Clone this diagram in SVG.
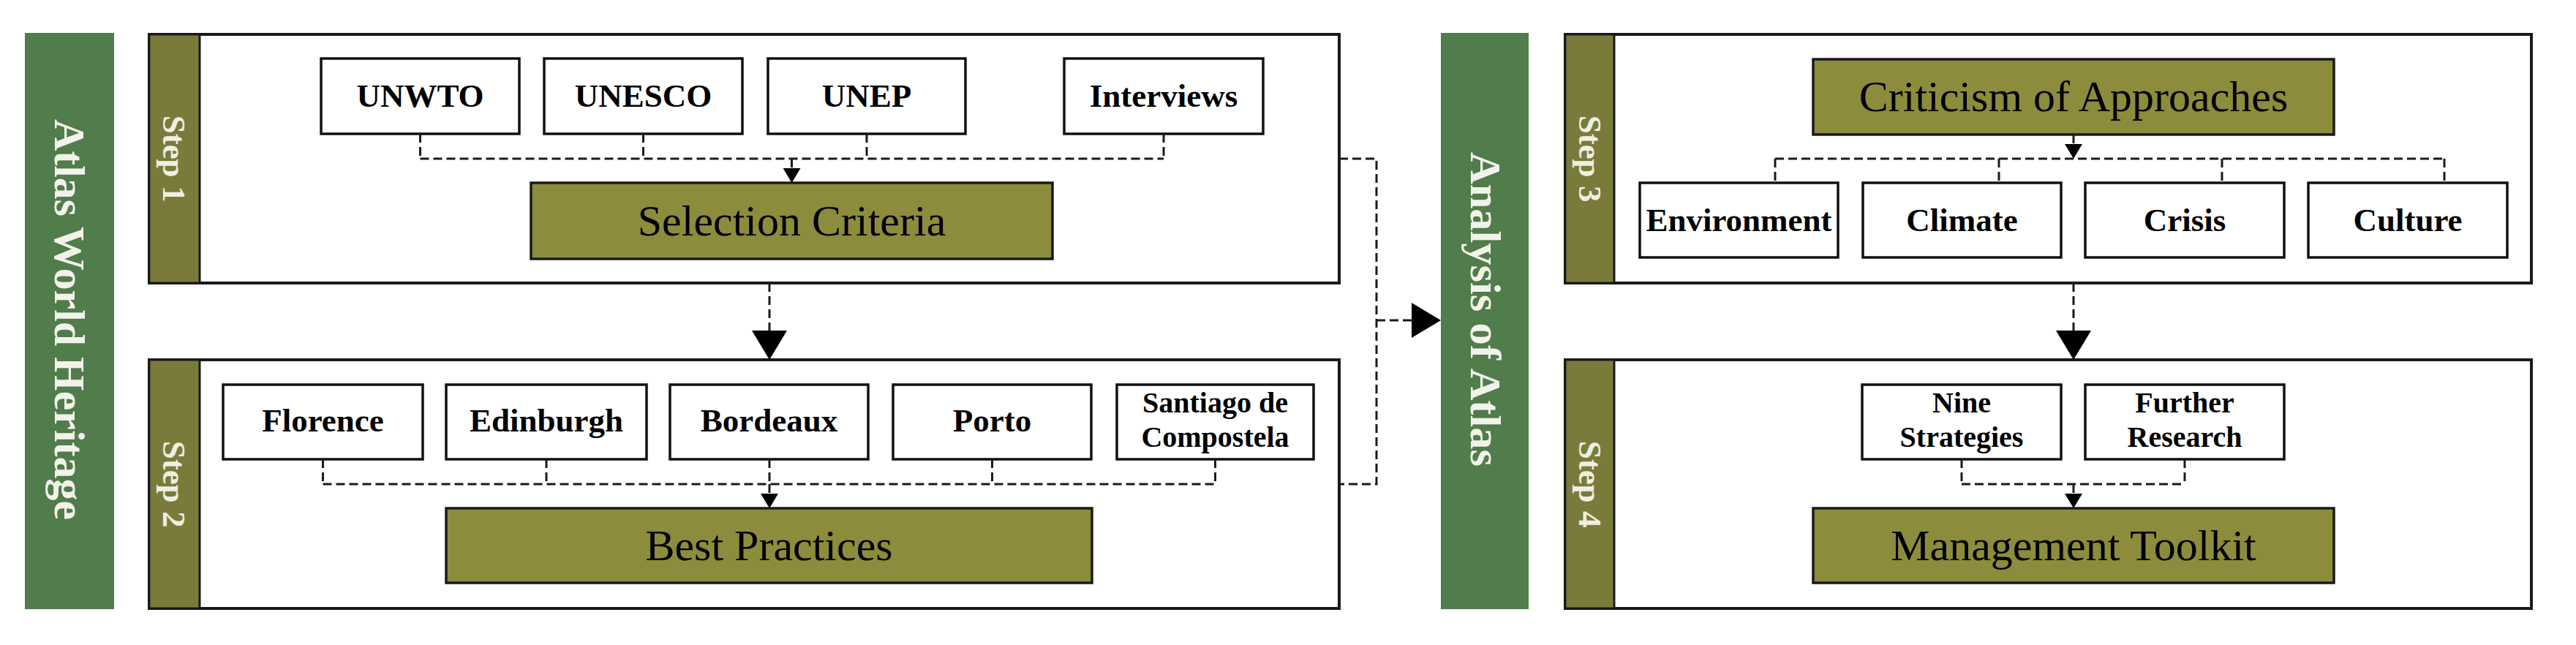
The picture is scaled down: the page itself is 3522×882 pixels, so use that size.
<svg xmlns="http://www.w3.org/2000/svg" width="3522" height="882" viewBox="0 0 3522 882">
<style>
.bg{fill:#ffffff}
.bar{fill:#517c4c}
.frame{fill:#ffffff;stroke:#1a1a1a;stroke-width:4}
.strip{fill:#7a7b3b;stroke:#1a1a1a;stroke-width:3}
.box{fill:#ffffff;stroke:#111111;stroke-width:3.5}
.obox{fill:#8c8c3c;stroke:#1a1a1a;stroke-width:3.5}
.lbl{font-family:"Liberation Serif","Times New Roman",serif;font-weight:bold;font-size:45px;fill:#000;text-anchor:middle}
.lbl2{font-family:"Liberation Serif","Times New Roman",serif;font-weight:bold;font-size:40px;fill:#000;text-anchor:middle}
.big{font-family:"Liberation Serif","Times New Roman",serif;font-size:60px;fill:#000;text-anchor:middle}
.vt{font-family:"Liberation Serif","Times New Roman",serif;font-weight:bold;font-size:60px;fill:#f2f2ea;text-anchor:middle}
.st{font-family:"Liberation Serif","Times New Roman",serif;font-weight:bold;font-size:45px;fill:#efefe0;text-anchor:middle}
.dash{fill:none;stroke:#1a1a1a;stroke-width:3;stroke-dasharray:12 6}
</style>
<defs>
<marker id="bigArrow" markerUnits="userSpaceOnUse" viewBox="0 0 40 48" markerWidth="40" markerHeight="48" refX="40" refY="24" orient="auto">
<path d="M0,0 L40,24 L0,48 Z" fill="#000"/>
</marker>
<marker id="smallArrow" markerUnits="userSpaceOnUse" viewBox="0 0 20 24" markerWidth="20" markerHeight="24" refX="20" refY="12" orient="auto">
<path d="M0,0 L20,12 L0,24 Z" fill="#000"/>
</marker>
</defs>
<rect class="bg" x="0" y="0" width="3522" height="882"/>

<g id="atlas-world-heritage">
<rect class="bar" x="34" y="45" width="122" height="788"/>
<text class="vt" transform="translate(95,437) rotate(90)" y="20" textLength="548" lengthAdjust="spacingAndGlyphs">Atlas World Heritage</text>
</g>

<g id="step1">
<rect class="frame" x="204" y="47" width="1627" height="340"/>
<rect class="strip" x="204" y="47" width="69" height="340"/>
<text class="st" transform="translate(238,217) rotate(90)" y="15">Step 1</text>
</g>
<g id="unwto"><rect class="box" x="439" y="80" width="271" height="103"/><text class="lbl" x="574.5" y="146">UNWTO</text></g>
<g id="unesco"><rect class="box" x="744" y="80" width="271" height="103"/><text class="lbl" x="879.5" y="146">UNESCO</text></g>
<g id="unep"><rect class="box" x="1050" y="80" width="270" height="103"/><text class="lbl" x="1185" y="146">UNEP</text></g>
<g id="interviews"><rect class="box" x="1455" y="80" width="272" height="103"/><text class="lbl" x="1591" y="146">Interviews</text></g>
<g id="selection-criteria"><rect class="obox" x="726" y="250" width="713" height="104"/><text class="big" x="1082.5" y="322">Selection Criteria</text></g>

<g id="step2">
<rect class="frame" x="204" y="492" width="1627" height="340"/>
<rect class="strip" x="204" y="492" width="69" height="340"/>
<text class="st" transform="translate(238,662) rotate(90)" y="15">Step 2</text>
</g>
<g id="florence"><rect class="box" x="305" y="526" width="273" height="102"/><text class="lbl" x="441.5" y="590">Florence</text></g>
<g id="edinburgh"><rect class="box" x="610" y="526" width="274" height="102"/><text class="lbl" x="747" y="590">Edinburgh</text></g>
<g id="bordeaux"><rect class="box" x="916" y="526" width="271" height="102"/><text class="lbl" x="1051.5" y="590">Bordeaux</text></g>
<g id="porto"><rect class="box" x="1221" y="526" width="271" height="102"/><text class="lbl" x="1356.5" y="590">Porto</text></g>
<g id="santiago"><rect class="box" x="1527" y="526" width="269" height="102"/><text class="lbl2" x="1661.5" y="564">Santiago de</text><text class="lbl2" x="1661.5" y="611">Compostela</text></g>
<g id="best-practices"><rect class="obox" x="610" y="695" width="883" height="102"/><text class="big" x="1051.5" y="766">Best Practices</text></g>

<g id="analysis-of-atlas">
<rect class="bar" x="1970" y="45" width="120" height="788"/>
<text class="vt" transform="translate(2031,423) rotate(90)" y="20" textLength="430" lengthAdjust="spacingAndGlyphs">Analysis of Atlas</text>
</g>

<g id="step3">
<rect class="frame" x="2140" y="47" width="1321" height="340"/>
<rect class="strip" x="2140" y="47" width="67" height="340"/>
<text class="st" transform="translate(2173.5,217) rotate(90)" y="15">Step 3</text>
</g>
<g id="criticism"><rect class="obox" x="2479" y="81" width="712" height="103"/><text class="big" x="2835" y="152">Criticism of Approaches</text></g>
<g id="environment"><rect class="box" x="2242" y="250" width="271" height="102"/><text class="lbl" x="2377.5" y="316">Environment</text></g>
<g id="climate"><rect class="box" x="2547" y="250" width="271" height="102"/><text class="lbl" x="2682.5" y="316">Climate</text></g>
<g id="crisis"><rect class="box" x="2851" y="250" width="272" height="102"/><text class="lbl" x="2987" y="316">Crisis</text></g>
<g id="culture"><rect class="box" x="3156" y="250" width="272" height="102"/><text class="lbl" x="3292" y="316">Culture</text></g>

<g id="step4">
<rect class="frame" x="2140" y="492" width="1321" height="340"/>
<rect class="strip" x="2140" y="492" width="67" height="340"/>
<text class="st" transform="translate(2173.5,662) rotate(90)" y="15">Step 4</text>
</g>
<g id="nine-strategies"><rect class="box" x="2546" y="526" width="272" height="102"/><text class="lbl2" x="2682" y="564">Nine</text><text class="lbl2" x="2682" y="611">Strategies</text></g>
<g id="further-research"><rect class="box" x="2851" y="526" width="272" height="102"/><text class="lbl2" x="2987" y="564">Further</text><text class="lbl2" x="2987" y="611">Research</text></g>
<g id="management-toolkit"><rect class="obox" x="2479" y="695" width="712" height="102"/><text class="big" x="2835" y="766">Management Toolkit</text></g>

<g id="connectors">
<path class="dash" d="M574.5,183 V217 M879.5,183 V217 M1185,183 V217 M1591,183 V217 M574.5,217 H1591"/>
<path class="dash" d="M1082.5,217 V250" marker-end="url(#smallArrow)"/>
<path class="dash" d="M1052,387 V492" marker-end="url(#bigArrow)"/>
<path class="dash" d="M441.5,628 V662 M747,628 V662 M1052,628 V662 M1356.5,628 V662 M1661.5,628 V662 M441.5,662 H1661.5"/>
<path class="dash" d="M1052,662 V695" marker-end="url(#smallArrow)"/>
<path class="dash" d="M1831,217 H1882 V662 H1831"/>
<path class="dash" d="M1882,438 H1970" marker-end="url(#bigArrow)"/>
<path class="dash" d="M2835,184 V217" marker-end="url(#smallArrow)"/>
<path class="dash" d="M2427,217 H3342 M2427,217 V250 M2733,217 V250 M3038,217 V250 M3342,217 V250"/>
<path class="dash" d="M2835,387 V492" marker-end="url(#bigArrow)"/>
<path class="dash" d="M2682,628 V662 M2987,628 V662 M2682,662 H2987"/>
<path class="dash" d="M2835,662 V695" marker-end="url(#smallArrow)"/>
</g>
</svg>
